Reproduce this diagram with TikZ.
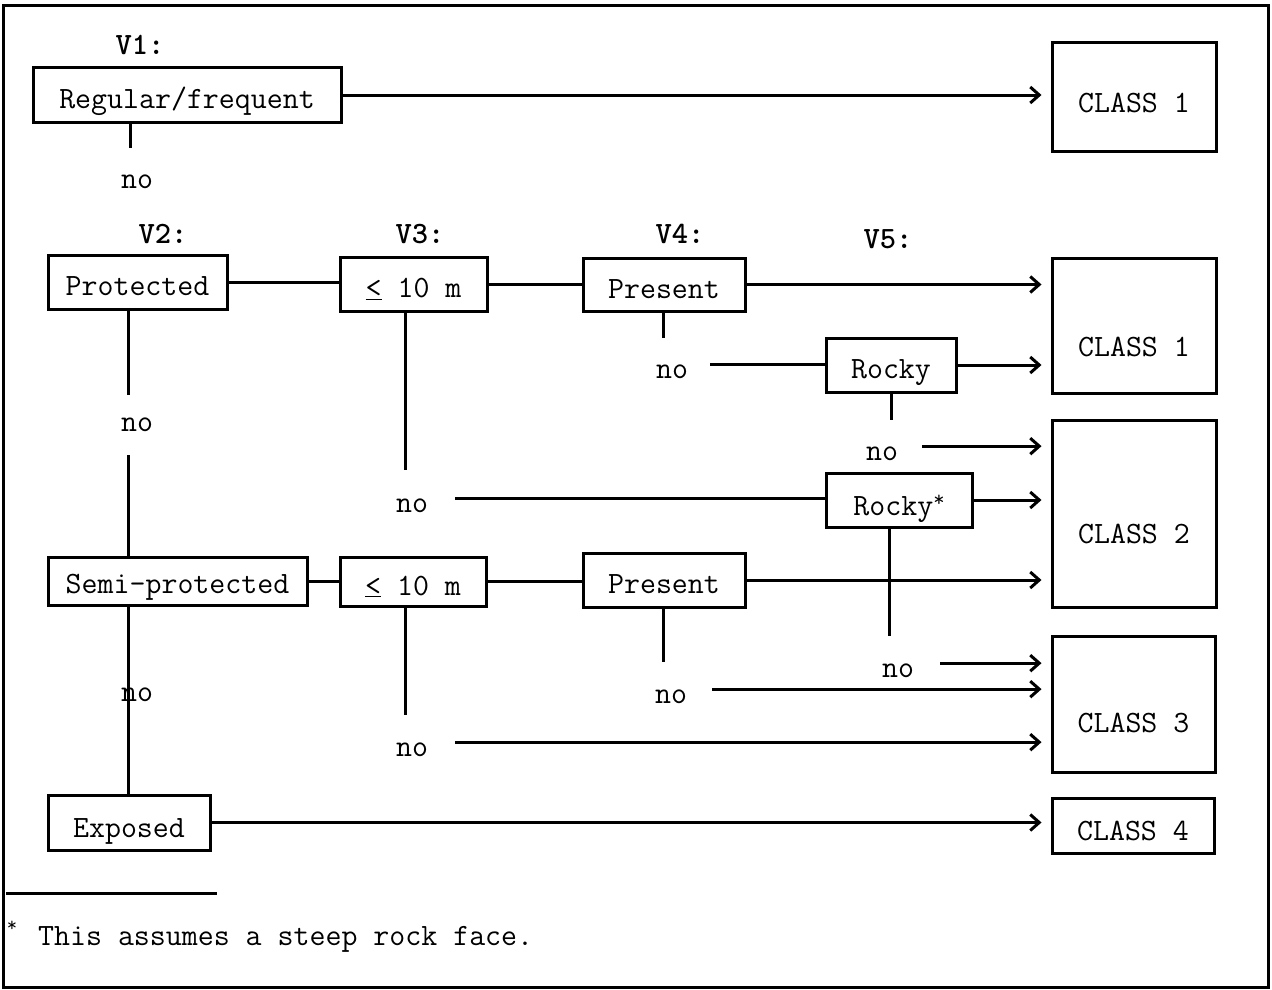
\documentclass[tikz,border=0pt]{standalone}
\usetikzlibrary{arrows.meta}
\begin{document}
\begin{tikzpicture}[x=1pt,y=-1pt,
  every node/.style={font=\fontsize{31}{34}\ttfamily},
  box/.style={draw, line width=3pt, inner sep=0pt, text height=27pt, text depth=0pt},
  nolab/.style={inner sep=0pt, anchor=base},
  head/.style={font=\fontsize{31}{34}\ttfamily\bfseries, anchor=base, inner sep=0pt},
  conn/.style={line width=3pt},
  arr/.style={conn, -{Straight Barb[length=9pt,width=16pt]}, shorten >=9pt},
]
\useasboundingbox (0,0) rectangle (1272,990);
\draw[line width=3pt] (3,6) rectangle (1268,987);

% headers
\node[head] (h1) at (140,55) {V1:};
\node[head] (h2) at (163,243) {V2:};
\node[head] (h3) at (420,243) {V3:};
\node[head] (h4) at (680,243) {V4:};
\node[head] (h5) at (888,248) {V5:};

% boxes
\node[box, minimum width=308pt, minimum height=54pt] (reg) at (187,95) {Regular/frequent};
\node[box, minimum width=164pt, minimum height=108pt, text height=30pt] (c1a) at (1134,97) {CLASS 1};
\node[box, minimum width=179pt, minimum height=54pt] (prot) at (137.5,282) {Protected\hspace{14pt}};
\node[box, minimum width=147pt, minimum height=54pt] (le1) at (413.5,284) {\underline{<} 10 m};
\node[box, minimum width=162pt, minimum height=53pt] (pres1) at (664,284.5) {Present};
\node[box, minimum width=130pt, minimum height=54pt] (rocky1) at (891,365) {Rocky};
\node[box, minimum width=164pt, minimum height=135pt, text height=61pt] (c1b) at (1134,325.5) {CLASS 1};
\node[box, minimum width=164pt, minimum height=187pt, text height=59pt] (c2) at (1134,513.5) {CLASS 2};
\node[box, minimum width=146pt, minimum height=54pt, text height=30pt] (rocky2) at (899,500) {Rocky\raisebox{9pt}{\fontsize{22}{22}\selectfont *}\hspace{4pt}};
\node[box, minimum width=259pt, minimum height=48pt, text height=24pt] (semi) at (177.5,581) {Semi-protected\hspace{14pt}};
\node[box, minimum width=146pt, minimum height=49pt, text height=27pt] (le2) at (413,581.5) {\underline{<} 10 m};
\node[box, minimum width=162pt, minimum height=54pt] (pres2) at (664,580) {Present};
\node[box, minimum width=163pt, minimum height=136pt, text height=56pt] (c3) at (1133.5,704) {CLASS 3};
\node[box, minimum width=162pt, minimum height=55pt, text height=29pt] (exp) at (129,822.5) {Exposed};
\node[box, minimum width=162pt, minimum height=55pt, text height=29pt] (c4) at (1133,825.5) {CLASS 4};

% "no" labels
\node[nolab] (no0) at (137,188) {no};
\node[nolab] (noP) at (137,431) {no};
\node[nolab] (noPres1) at (672,378) {no};
\node[nolab] (noRocky1) at (882,460) {no};
\node[nolab] (noLe1) at (412,512) {no};
\node[nolab] (noRocky2) at (898,677) {no};
\node[nolab] (noPres2) at (671,703) {no};
\node[nolab] (noLe2) at (412,756) {no};
\node[nolab] (noSemi) at (137,701) {no};

% free ends of vertical connectors
\coordinate (t0) at (130,148);
\coordinate (t1) at (128,395);
\coordinate (t2) at (128,455);
\coordinate (t3) at (405,470);
\coordinate (t4) at (663,338);
\coordinate (t5) at (891,420);
\coordinate (t6) at (889,636);
\coordinate (t7) at (405,715);
\coordinate (t8) at (663,662);
\coordinate (t9) at (128,605);

% vertical connectors
\draw[conn] (t0 |- reg.south) -- (t0);
\draw[conn] (t1 |- prot.south) -- (t1);
\draw[conn] (t2) -- (t2 |- semi.north);
\draw[conn] (t3 |- le1.south) -- (t3);
\draw[conn] (t4 |- pres1.south) -- (t4);
\draw[conn] (t5 |- rocky1.south) -- (t5);
\draw[conn] (t6 |- rocky2.south) -- (t6);
\draw[conn] (t7 |- le2.south) -- (t7);
\draw[conn] (t8 |- pres2.south) -- (t8);
\draw[conn] (t9 |- semi.south) -- (t9 |- exp.north);

% horizontal connectors
\draw[arr] (reg.east) -- (reg.east -| c1a.west);
\draw[conn] (prot.east) -- (prot.east -| le1.west);
\draw[conn] (le1.east) -- (le1.east -| pres1.west);
\draw[arr] (pres1.east) -- (pres1.east -| c1b.west);
\draw[conn, shorten <=22pt] (noPres1.north east) -- (noPres1.north east -| rocky1.west);
\draw[arr] (rocky1.east) -- (rocky1.east -| c1b.west);
\draw[arr, shorten <=24pt] (noRocky1.north east) -- (noRocky1.north east -| c2.west);
\draw[conn, shorten <=27pt] (noLe1.north east) -- (noLe1.north east -| rocky2.west);
\draw[arr] (rocky2.east) -- (rocky2.east -| c2.west);
\draw[conn] (semi.east) -- (semi.east -| le2.west);
\draw[conn] (le2.east) -- (le2.east -| pres2.west);
\draw[arr] (pres2.east) -- (pres2.east -| c2.west);
\draw[arr, shorten <=26pt] (noRocky2.north east) -- (noRocky2.north east -| c3.west);
\draw[arr, shorten <=25pt] (noPres2.north east) -- (noPres2.north east -| c3.west);
\draw[arr, shorten <=27pt] (noLe2.north east) -- (noLe2.north east -| c3.west);
\draw[arr] (exp.east) -- (exp.east -| c4.west);

% footnote
\draw[conn] (6,893) -- (217,893);
\node[inner sep=0pt, font=\fontsize{20}{20}\ttfamily] (star) at (12,926) {*};
\node[inner sep=0pt, anchor=base west] (fn) at (38,945) {This assumes a steep rock face.};
\end{tikzpicture}
\end{document}
